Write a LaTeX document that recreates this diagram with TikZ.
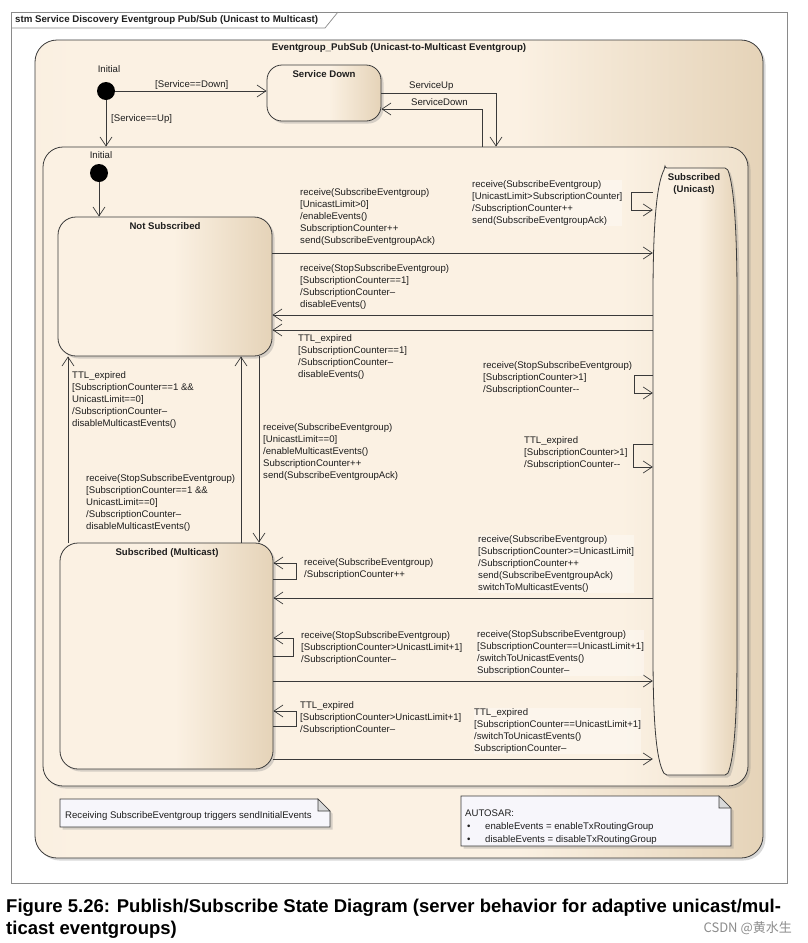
\documentclass[tikz,border=0pt]{standalone}
\usepackage{fontspec}
\setmainfont{Liberation Sans}
\newfontfamily\cjkfont{Noto Sans CJK SC}
\usetikzlibrary{arrows.meta,shadows}
\definecolor{cream}{HTML}{FBF1E3}
\definecolor{tanc}{HTML}{E5D3B8}
\definecolor{tanl}{HTML}{EFE1CC}
\definecolor{edgec}{HTML}{3A3A3A}
\definecolor{txt}{HTML}{1E1E1E}
\definecolor{notefill}{HTML}{F7F6FB}
\definecolor{framec}{HTML}{8A8A8A}
\pgfdeclarehorizontalshading{stsh}{100bp}{color(0bp)=(cream); color(52bp)=(cream); color(75bp)=(tanc); color(100bp)=(tanc)}
\pgfdeclarehorizontalshading{compsh}{100bp}{color(0bp)=(cream); color(66bp)=(cream); color(75bp)=(tanl); color(100bp)=(tanl)}
\pgfdeclarehorizontalshading{outsh}{100bp}{color(0bp)=(tanl); color(28bp)=(cream); color(58bp)=(cream); color(75bp)=(tanc); color(100bp)=(tanc)}
\begin{document}
\begin{tikzpicture}[x=1pt,y=-1pt,
  shd/.style={drop shadow={shadow xshift=2.5pt,shadow yshift=-2.5pt,opacity=0.3}},
  stbox/.style={draw=edgec,line width=0.8pt,rounded corners=#1,shading=stsh,shd,inner sep=0pt},
  ttl/.style={font=\fontsize{9.6}{11.5}\selectfont\bfseries,text=txt,inner sep=0pt},
  lbl/.style={font=\fontsize{9.6}{12.2}\selectfont,align=left,anchor=north west,inner sep=0pt,text=txt},
  lblw/.style={lbl,fill=white,fill opacity=0.35,text opacity=1},
  tr/.style={draw=edgec,line width=0.7pt,-{Straight Barb[length=9pt,width=12pt,line width=0.7pt]}},
  initdot/.style={circle,fill=black,minimum size=18pt,inner sep=0pt},
  notebox/.style={draw=edgec,line width=0.7pt,fill=notefill,shd}
]
\useasboundingbox (0,0) rectangle (807,943);
\fill[white] (0,0) rectangle (807,943);

% frame and header tab
\draw[framec,line width=0.7pt] (11,12) rectangle (787,883);
\draw[framec,line width=0.7pt] (11,28) -- (325,28) -- (338,12);
\node[anchor=west,font=\fontsize{9.7}{11}\selectfont\bfseries,text=txt,inner sep=0pt] (hdr) at (15,20) {stm Service Discovery Eventgroup Pub/Sub (Unicast to Multicast)};

% outer composite state
\node[draw=edgec,line width=0.8pt,rounded corners=22pt,shading=outsh,shd,inner sep=0pt,minimum width=728pt,minimum height=818pt] (outer) at (399,449) {};
\node[font=\fontsize{9.7}{11}\selectfont\bfseries,text=txt,inner sep=0pt] (otitle) at (399,48) {Eventgroup\_PubSub (Unicast-to-Multicast Eventgroup)};

% initial 1 and Service Down
\node[font=\fontsize{9.6}{11}\selectfont,text=txt,inner sep=0pt] (initl1) at (109,69) {Initial};
\node[initdot] (init1) at (106,91) {};
\node[stbox=15pt,minimum width=114pt,minimum height=56pt] (sdown) at (324,93) {};
\node[ttl] (sdtitle) at (324,74) {Service Down};

% inner composite
\node[draw=edgec,line width=0.8pt,rounded corners=20pt,shading=compsh,shd,inner sep=0pt,minimum width=705pt,minimum height=639pt] (inner) at (395.5,466.5) {};
\node[font=\fontsize{9.6}{11}\selectfont,text=txt,inner sep=0pt] (initl2) at (101,155) {Initial};
\node[initdot] (init2) at (99,173) {};

% states
\node[stbox=18pt,minimum width=214pt,minimum height=139pt] (notsub) at (165,286.5) {};
\node[ttl] (nstitle) at (165,226) {Not Subscribed};
\node[stbox=18pt,minimum width=213pt,minimum height=226pt] (multi) at (166.5,656) {};
\node[ttl] (mutitle) at (167,553) {Subscribed (Multicast)};
\draw[edgec,line width=0.8pt,shading=stsh,shd,rounded corners=2pt] (665,168) -- (727,168) .. controls (734,185) and (737,230) .. (737,300) -- (737,650) .. controls (737,720) and (734,760) .. (727,775) -- (665,775) .. controls (656,760) and (653,720) .. (653,650) -- (653,300) .. controls (653,230) and (656,185) .. (665,168) -- cycle;
\node[minimum width=84pt,minimum height=607pt,inner sep=0pt] (uni) at (695,471.5) {};
\node[ttl,align=center] (untitle) at (694,184) {Subscribed\\(Unicast)};

% top transitions
\draw[tr] (init1.east) -- (sdown.west |- init1);
\node[lbl] (lsd) at (155,80) {[Service==Down]};
\draw[tr] (init1.south) -- (inner.north -| init1);
\node[lbl] (lsu) at (111,114) {[Service==Up]};
\draw[tr] (sdown.east) -| (inner.north -| 496,0);
\node[lbl] (lsup) at (409,81) {ServiceUp};
\draw[tr] (inner.north -| 482,0) |- (sdown.east |- 0,109);
\node[lbl] (lsdn) at (411,98) {ServiceDown};
\draw[tr] (init2.south) -- (notsub.north -| init2);

% Not Subscribed <-> Unicast
\draw[tr] (notsub.east |- 0,253) -- (uni.west |- 0,253);
\node[lbl] (l6) at (300,188) {receive(SubscribeEventgroup)\\{}[UnicastLimit>0]\\/enableEvents()\\SubscriptionCounter++\\send(SubscribeEventgroupAck)};
\draw[tr] (uni.west |- 0,315) -- (notsub.east |- 0,315);
\node[lbl] (l7) at (300,264) {receive(StopSubscribeEventgroup)\\{}[SubscriptionCounter==1]\\/SubscriptionCounter--\\disableEvents()};
\draw[tr] (uni.west |- 0,330) -- (notsub.east |- 0,330);
\node[lbl] (l8) at (298,334) {TTL\_expired\\{}[SubscriptionCounter==1]\\/SubscriptionCounter--\\disableEvents()};

% Unicast self loops
\draw[tr] (uni.west |- 0,192) -- ++(-21,0) |- (uni.west |- 0,210);
\node[lblw] (l9) at (472,180) {receive(SubscribeEventgroup)\\{}[UnicastLimit>SubscriptionCounter]\\/SubscriptionCounter++\\send(SubscribeEventgroupAck)};
\draw[tr] (uni.west |- 0,375) -- ++(-18,0) |- (uni.west |- 0,393);
\node[lbl] (l10) at (483,361) {receive(StopSubscribeEventgroup)\\{}[SubscriptionCounter>1]\\/SubscriptionCounter-{}-};
\draw[tr] (uni.west |- 0,444) -- ++(-19,0) |- (uni.west |- 0,467);
\node[lbl] (l11) at (524,436) {TTL\_expired\\{}[SubscriptionCounter>1]\\/SubscriptionCounter-{}-};

% Not Subscribed <-> Multicast
\draw[tr] (notsub.south -| 259,0) -- (multi.north -| 259,0);
\node[lbl] (l12) at (263,423) {receive(SubscribeEventgroup)\\{}[UnicastLimit==0]\\/enableMulticastEvents()\\SubscriptionCounter++\\send(SubscribeEventgroupAck)};
\draw[tr] (multi.north -| 241,0) -- (notsub.south -| 241,0);
\node[lbl] (l13) at (86,474) {receive(StopSubscribeEventgroup)\\{}[SubscriptionCounter==1 \&\&\\UnicastLimit==0]\\/SubscriptionCounter--\\disableMulticastEvents()};
\draw[tr] (multi.north -| 68,0) -- (notsub.south -| 68,0);
\node[lbl] (l14) at (72,371) {TTL\_expired\\{}[SubscriptionCounter==1 \&\&\\UnicastLimit==0]\\/SubscriptionCounter--\\disableMulticastEvents()};

% Multicast self loops
\draw[tr] (multi.east |- 0,579) -- ++(23,0) |- (multi.east |- 0,563);
\node[lbl] (l15) at (304,558) {receive(SubscribeEventgroup)\\/SubscriptionCounter++};
\draw[tr] (multi.east |- 0,656) -- ++(20,0) |- (multi.east |- 0,638);
\node[lbl] (l17) at (301,631) {receive(StopSubscribeEventgroup)\\{}[SubscriptionCounter>UnicastLimit+1]\\/SubscriptionCounter--};
\draw[tr] (multi.east |- 0,726) -- ++(23,0) |- (multi.east |- 0,711);
\node[lbl] (l19) at (300,701) {TTL\_expired\\{}[SubscriptionCounter>UnicastLimit+1]\\/SubscriptionCounter--};

% Unicast <-> Multicast
\draw[tr] (uni.west |- 0,598) -- (multi.east |- 0,598);
\node[lblw] (l16) at (478,535) {receive(SubscribeEventgroup)\\{}[SubscriptionCounter>=UnicastLimit]\\/SubscriptionCounter++\\send(SubscribeEventgroupAck)\\switchToMulticastEvents()};
\draw[tr] (multi.east |- 0,681) -- (uni.west |- 0,681);
\node[lblw] (l18) at (477,630) {receive(StopSubscribeEventgroup)\\{}[SubscriptionCounter==UnicastLimit+1]\\/switchToUnicastEvents()\\SubscriptionCounter--};
\draw[tr] (multi.east |- 0,759) -- (uni.west |- 0,759);
\node[lblw] (l20) at (474,708) {TTL\_expired\\{}[SubscriptionCounter==UnicastLimit+1]\\/switchToUnicastEvents()\\SubscriptionCounter--};

% notes
\path[notebox] (60,799) -- (318,799) -- (330,811) -- (330,827) -- (60,827) -- cycle;
\draw[edgec,line width=0.6pt,fill=black!15] (318,799) -- (318,811) -- (330,811) -- cycle;
\node[lbl,anchor=west] (n1) at (65,816) {Receiving SubscribeEventgroup triggers sendInitialEvents};
\path[notebox] (461,796) -- (719,796) -- (731,808) -- (731,846) -- (461,846) -- cycle;
\draw[edgec,line width=0.6pt,fill=black!15] (719,796) -- (719,808) -- (731,808) -- cycle;
\node[lbl,font=\fontsize{9.6}{12.8}\selectfont] (n2) at (465,809.5) {AUTOSAR:\\\makebox[20pt][l]{\hspace{2pt}\textbullet}enableEvents = enableTxRoutingGroup\\\makebox[20pt][l]{\hspace{2pt}\textbullet}disableEvents = disableTxRoutingGroup};

% caption
\node[anchor=base west,font=\fontsize{18.5}{22}\selectfont\bfseries,text=black,inner sep=0pt] (cap1) at (6,912) {Figure 5.26: Publish/Subscribe State Diagram (server behavior for adaptive unicast/mul-};
\node[anchor=base west,font=\fontsize{18.5}{22}\selectfont\bfseries,text=black,inner sep=0pt] (cap2) at (6,934) {ticast eventgroups)};
\node[anchor=base east,font=\cjkfont\fontsize{13}{15}\selectfont,text=black!45,inner sep=0pt] (wm) at (792,932) {CSDN @黄水生};
\end{tikzpicture}
\end{document}
